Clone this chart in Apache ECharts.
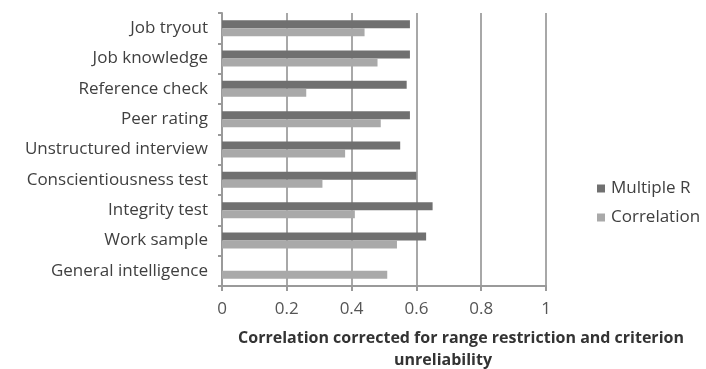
<!DOCTYPE html>
<html>
<head>
<meta charset="utf-8">
<script src="https://cdn.jsdelivr.net/npm/echarts@6/dist/echarts.min.js"></script>
<style>
  html, body { margin: 0; padding: 0; background: #ffffff; }
  #chart { width: 706px; height: 369px; }
</style>
</head>
<body>
<div id="chart"></div>
<script>
// Selection methods, listed top to bottom
const methods = [
  'Job tryout',
  'Job knowledge',
  'Reference check',
  'Peer rating',
  'Unstructured interview',
  'Conscientiousness test',
  'Integrity test',
  'Work sample',
  'General intelligence'
];

// Multiple R when combined with general intelligence (none for GMA itself)
const multipleR = [0.58, 0.58, 0.57, 0.58, 0.55, 0.60, 0.65, 0.63, null];

// Validity of each method on its own
const correlation = [0.44, 0.48, 0.26, 0.49, 0.38, 0.31, 0.41, 0.54, 0.51];

const xTicks = [0, 0.2, 0.4, 0.6, 0.8, 1];

const FONT = '"Open Sans", "Noto Sans", sans-serif';

const chart = echarts.init(document.getElementById('chart'));

chart.setOption({
  animation: false,
  backgroundColor: '#ffffff',
  grid: { left: 222, right: 160, top: 13, bottom: 83 },
  legend: {
    orient: 'vertical',
    left: 592,
    top: 175,
    itemWidth: 8,
    itemHeight: 8,
    itemGap: 12,
    icon: 'rect',
    data: ['Multiple R', 'Correlation'],
    textStyle: { fontFamily: FONT, fontSize: 17, color: '#404040', padding: [0, 0, 0, 1] }
  },
  xAxis: {
    type: 'value',
    min: xTicks[0],
    max: xTicks[xTicks.length - 1],
    interval: 0.2,
    axisLine: { show: true, lineStyle: { color: '#9a9a9a', width: 2 } },
    axisTick: { show: true, length: 5, lineStyle: { color: '#9a9a9a', width: 2 } },
    axisLabel: {
      margin: 15,
      fontFamily: FONT,
      fontSize: 17,
      color: '#555555',
      formatter: v => String(Math.round(v * 10) / 10)
    },
    splitLine: { show: true, lineStyle: { color: '#a8a8a8', width: 2 } }
  },
  yAxis: {
    type: 'category',
    data: methods,
    inverse: true,
    axisLine: { show: true, lineStyle: { color: '#9a9a9a', width: 2 } },
    axisTick: { show: true, length: 4, lineStyle: { color: '#9a9a9a', width: 2 } },
    axisLabel: { margin: 14, fontFamily: FONT, fontSize: 17, color: '#404040' }
  },
  series: [
    {
      name: 'Multiple R',
      type: 'bar',
      data: multipleR,
      barWidth: 8,
      barGap: '0%',
      itemStyle: { color: '#707070' }
    },
    {
      name: 'Correlation',
      type: 'bar',
      data: correlation,
      barWidth: 8,
      barGap: '0%',
      itemStyle: { color: '#a9a9a9' }
    }
  ],
  graphic: [
    {
      type: 'text',
      x: 461,
      y: 338,
      style: {
        text: 'Correlation corrected for range restriction and criterion',
        fontFamily: FONT,
        fontSize: 16,
        fontWeight: 'bold',
        fill: '#333333',
        textAlign: 'center',
        textVerticalAlign: 'middle'
      }
    },
    {
      type: 'text',
      x: 443,
      y: 360,
      style: {
        text: 'unreliability',
        fontFamily: FONT,
        fontSize: 16,
        fontWeight: 'bold',
        fill: '#333333',
        textAlign: 'center',
        textVerticalAlign: 'middle'
      }
    }
  ]
});
</script>
</body>
</html>
